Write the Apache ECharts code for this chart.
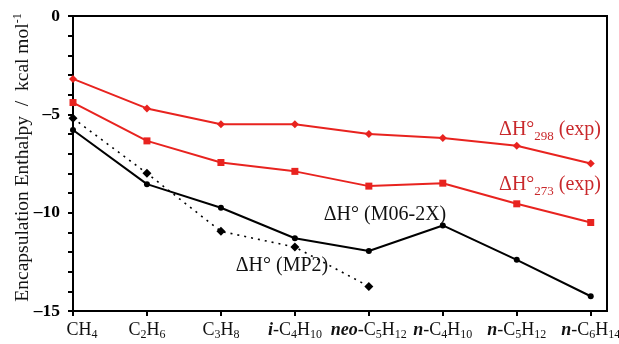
<!DOCTYPE html>
<html><head><meta charset="utf-8">
<script src="https://cdn.jsdelivr.net/npm/echarts@6/dist/echarts.min.js"></script>
<style>html,body{margin:0;padding:0;background:#fff}#c{width:619px;height:344px}</style>
</head><body><div id="c"></div>
<script>
// ---- data ----
var categories = ['CH4', 'C2H6', 'C3H8', 'i-C4H10', 'neo-C5H12', 'n-C4H10', 'n-C5H12', 'n-C6H14'];
var dH298exp = [-3.2, -4.7, -5.5, -5.5, -6.0, -6.2, -6.6, -7.5];
var dH273exp = [-4.4, -6.35, -7.45, -7.9, -8.65, -8.5, -9.55, -10.5];
var dHM062X  = [-5.8, -8.55, -9.75, -11.3, -11.95, -10.65, -12.4, -14.25];
var dHMP2    = [-5.2, -8.0, -10.95, -11.75, -13.75, null, null, null];
var yTicks = [0, -5, -10, -15];
// annotation labels: [x (category units), y (kcal/mol), text, subscript, rest, colour key]
var annotations = [
  [5.76, -5.78, 'ΔH°', '298', ' (exp)', 'red'],
  [5.76, -8.6, 'ΔH°', '273', ' (exp)', 'red'],
  [3.39, -10.1, 'ΔH°', '', ' (M06-2X)', 'black'],
  [2.2, -12.7, 'ΔH°', '', ' (MP2)', 'black']
];

var RED = '#e8231f', TRED = '#c9282b';
var FONT = '"Liberation Serif","Times New Roman",serif';

function idx(arr){ return arr.map(function(v,i){ return [i, v]; }); }
function richCat(name, i){
  var pre = '', body = name;
  var m = name.match(/^([a-z]+)-(.*)$/);
  if (m){ pre = '{it|' + m[1] + '}'; body = '-' + m[2]; }
  var out = body.replace(/([A-Za-z\-]+)|(\d+)/g, function(s, a, d){
    return a ? '{n|' + a + '}' : '{s|' + d + '}';
  });
  return (i === 0 ? '{pad|}' : '') + pre + out;
}

var chart = echarts.init(document.getElementById('c'));

var markData = annotations.map(function(a){
  var key = a[5] === 'red' ? 'r' : 'k';
  var txt = '{' + key + '|' + a[2] + '}' + (a[3] ? '{' + key + 's|' + a[3] + '}' : '') + '{' + key + '|' + a[4] + '}';
  return { coord: [a[0], a[1]], value: txt };
});

chart.setOption({
  animation: false,
  grid: { left: 73, right: 12, top: 16, bottom: 33, show: true, borderColor: '#000', borderWidth: 2,
          containLabel: false, outerBoundsMode: 'none' },
  xAxis: {
    type: 'value', min: 0, max: 7.22,
    splitLine: { show: false },
    axisLine: { onZero: false, lineStyle: { color: '#000', width: 2 } },
    axisTick: { customValues: [0,1,2,3,4,5,6,7], length: 5, lineStyle: { color: '#000', width: 2 } },
    axisLabel: {
      customValues: [0,1,2,3,4,5,6,7], margin: 8,
      formatter: function(v){ var i = Math.round(v); return richCat(categories[i], i); },
      rich: {
        n: { fontFamily: FONT, fontSize: 18, color: '#111' },
        it: { fontFamily: FONT, fontSize: 18, fontStyle: 'italic', fontWeight: 'bold', color: '#111' },
        s: { fontFamily: FONT, fontSize: 12, color: '#111', padding: [10, 0, 0, 0] },
        pad: { width: 18 }
      }
    }
  },
  yAxis: {
    type: 'value', min: -15, max: 0, interval: 5,
    splitLine: { show: false },
    axisLine: { lineStyle: { color: '#000', width: 2 } },
    axisTick: { length: 5, lineStyle: { color: '#000', width: 2 } },
    minorTick: { show: true, splitNumber: 5, length: 5, lineStyle: { color: '#000', width: 2 } },
    axisLabel: {
      margin: 13, fontFamily: FONT, fontSize: 17.5, fontWeight: 'bold', color: '#000',
      customValues: yTicks,
      formatter: function(v){ return v < 0 ? '\u2013' + (-v) : String(v); }
    },
    name: '{n|Encapsulation Enthalpy  /  kcal mol}{sup|-1}',
    nameLocation: 'middle', nameGap: 40, nameRotate: 90, nameMoveOverlap: false,
    nameTextStyle: {
      padding: [0, 0, 0, 12],
      rich: {
        n: { fontFamily: FONT, fontSize: 19.5, color: '#111' },
        sup: { fontFamily: FONT, fontSize: 12, color: '#111', padding: [0, 0, 9, 0] }
      }
    }
  },
  series: [
    { name: 'dH298', type: 'line', data: idx(dH298exp), symbol: 'diamond', symbolSize: 8,
      itemStyle: { color: RED }, lineStyle: { color: RED, width: 2 } },
    { name: 'dH273', type: 'line', data: idx(dH273exp), symbol: 'rect', symbolSize: 7,
      itemStyle: { color: RED }, lineStyle: { color: RED, width: 2 } },
    { name: 'M062X', type: 'line', data: idx(dHM062X), symbol: 'circle', symbolSize: 6,
      itemStyle: { color: '#000' }, lineStyle: { color: '#000', width: 2 } },
    { name: 'MP2', type: 'line', data: idx(dHMP2), symbol: 'diamond', symbolSize: 9,
      itemStyle: { color: '#000' }, lineStyle: { color: '#000', width: 1.6, type: [2, 5] },
      markPoint: {
        symbol: 'circle', symbolSize: 0, silent: true,
        data: markData,
        label: {
          show: true, position: 'inside', align: 'left', verticalAlign: 'middle',
          formatter: function(p){ return p.value; },
          rich: {
            r: { fontFamily: FONT, fontSize: 20, color: TRED },
            rs: { fontFamily: FONT, fontSize: 13, color: TRED, padding: [13, 0, 0, 0] },
            k: { fontFamily: FONT, fontSize: 20, color: '#111' },
            ks: { fontFamily: FONT, fontSize: 13, color: '#111', padding: [13, 0, 0, 0] }
          }
        }
      }
    }
  ]
});
</script></body></html>
